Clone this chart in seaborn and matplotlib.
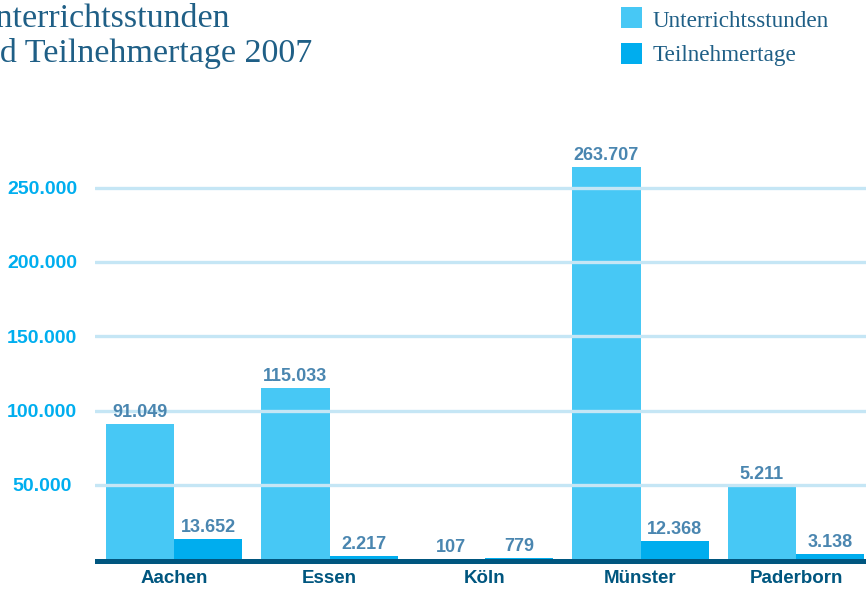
import matplotlib
matplotlib.use("Agg")
import matplotlib.pyplot as plt
from matplotlib.patches import Rectangle
import pandas as pd
import seaborn as sns

# Daten aus der Grafik
staedte = ["Aachen", "Essen", "Köln", "Münster", "Paderborn"]
unterrichtsstunden = [91049, 115033, 107, 263707, 49000]
unterricht_labels = ["91.049", "115.033", "107", "263.707", "5.211"]
teilnehmertage = [13652, 2217, 779, 12368, 3138]
teilnehmer_labels = ["13.652", "2.217", "779", "12.368", "3.138"]
yticks = [50000, 100000, 150000, 200000, 250000]
ytick_labels = ["50.000", "100.000", "150.000", "200.000", "250.000"]

hell = "#47C8F5"
dunkel = "#00ADEE"
navy = "#00567F"
titel_farbe = "#1F5F86"

df = pd.DataFrame({
    "Stadt": staedte * 2,
    "Wert": unterrichtsstunden + teilnehmertage,
    "Reihe": ["Unterrichtsstunden"] * 5 + ["Teilnehmertage"] * 5,
})

W, H = 866, 591
fig = plt.figure(figsize=(W / 100, H / 100), dpi=100)
sns.set_style("white")
ax = fig.add_axes([95 / W, 27 / H, 1 - 95 / W, (564 - 140) / H])

sns.barplot(data=df, x="Stadt", y="Wert", hue="Reihe", palette=[hell, dunkel],
            saturation=1, width=0.88, gap=0, legend=False, ax=ax, zorder=1,
            linewidth=0, edgecolor="none")

px = 1.485 / 1000  # Pixel pro Einheit
ax.set_ylim(-5 / px, (559 - 140) / px)
ax.set_xlim(-0.508, 4.45)
ax.axhspan(-5 / px, 0, color=navy, zorder=3, lw=0)

ax.set_yticks(yticks)
ax.set_yticklabels(ytick_labels)
ax.yaxis.grid(True, color="#C5E6F5", linewidth=2.4)
ax.xaxis.grid(False)
ax.set_axisbelow(False)
ax.tick_params(axis="y", length=0, pad=38, labelcolor="#00AEEF", labelsize=14)
ax.tick_params(axis="x", length=0, pad=4, labelcolor=navy, labelsize=13.5)
for t in ax.get_yticklabels():
    t.set_ha("center")
    t.set_fontweight("bold")
    t.set_family("Liberation Sans")
for t in ax.get_xticklabels():
    t.set_fontweight("bold")
    t.set_family("Liberation Sans")
ax.set_xlabel("")
ax.set_ylabel("")
sns.despine(ax=ax, left=True, bottom=True)

# Wertebeschriftungen
for container, labels in zip(ax.containers, [unterricht_labels, teilnehmer_labels]):
    for bar, lbl in zip(container, labels):
        ax.annotate(lbl, (bar.get_x() + bar.get_width() / 2, bar.get_height()),
                    xytext=(0, 5), textcoords="offset points", ha="center", va="baseline",
                    fontsize=13, fontweight="bold", color="#4A86B0",
                    family="Liberation Sans", zorder=4)

# Titel (links angeschnitten)
fig.text(-29 / W, 1 - 27 / H, "Unterrichtsstunden", fontsize=24.5, color=titel_farbe,
         family="Liberation Serif", va="baseline", ha="left")
fig.text(-34 / W, 1 - 62 / H, "und Teilnehmertage 2007", fontsize=24.5, color=titel_farbe,
         family="Liberation Serif", va="baseline", ha="left")

# Legende
for (y0, farbe, text, base) in [(7, hell, "Unterrichtsstunden", 27), (43, dunkel, "Teilnehmertage", 61)]:
    fig.add_artist(Rectangle((621 / W, 1 - (y0 + 21) / H), 21 / W, 21 / H,
                             transform=fig.transFigure, color=farbe, lw=0))
    fig.text(653 / W, 1 - base / H, text, fontsize=16.7, color=titel_farbe,
             family="Liberation Serif", va="baseline", ha="left")

fig.savefig("out.png", dpi=100)
